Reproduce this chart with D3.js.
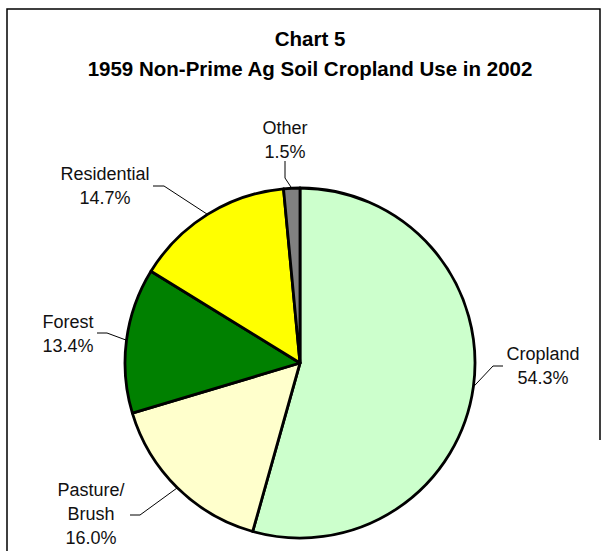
<html>
<head>
  <script src="https://d3js.org/d3.v7.min.js"></script>
  <style>
    body { margin: 0; background: #fff; }
    svg { display: block; font-family: "Liberation Sans", Arial, sans-serif; }
  </style>
</head>
<body>
  <svg id="chart"></svg>
  <script type="text/javascript">
    // data
    var categories = ["Cropland", "Pasture/\nBrush", "Forest", "Residential", "Other"];
    var shares = [54.3, 16.0, 13.4, 14.7, 1.5];
    var colors = ["#CCFFCC", "#FFFFCC", "#008000", "#FFFF00", "#808080"];
    var titleLines = ["Chart 5", "1959 Non-Prime Ag Soil Cropland Use in 2002"];

    var width = 605;
    var height = 551;
    var cx = 300, cy = 363, radius = 175;

    // label layout: text centre, first baseline, elbow and start of leader
    var labelLayout = [
      { x: 543, y: 360, elbow: [493, 366], start: [503, 366] },
      { x: 91, y: 496, elbow: [140, 515], start: [130, 515] },
      { x: 68, y: 328, elbow: [107, 333], start: [97, 333] },
      { x: 105, y: 180, elbow: [164, 186], start: [153, 186] },
      { x: 285, y: 134, elbow: [285, 178], start: [285, 161] }
    ];

    var svg = d3.select("#chart")
      .attr("width", width)
      .attr("height", height);

    // frame
    svg.append("path")
      .attr("d", "M7," + height + " L7,9 L600,9 L600,440")
      .attr("fill", "none")
      .attr("stroke", "#000")
      .attr("stroke-width", 1.5);

    // title
    svg.selectAll(".title")
      .data(titleLines)
      .enter()
      .append("text")
      .attr("class", "title")
      .attr("x", 310)
      .attr("y", function(d, i) { return 46 + i * 30; })
      .attr("text-anchor", "middle")
      .style("font-size", "20.5px")
      .style("font-weight", "bold")
      .text(function(d) { return d; });

    var pie = d3.pie().sort(null).value(function(d) { return d; });
    var arcs = pie(shares);

    var arc = d3.arc().innerRadius(0).outerRadius(radius);
    var edgeArc = d3.arc().innerRadius(radius).outerRadius(radius);

    var g = svg.append("g").attr("transform", "translate(" + cx + "," + cy + ")");

    g.selectAll("path.slice")
      .data(arcs)
      .enter()
      .append("path")
      .attr("class", "slice")
      .attr("d", arc)
      .attr("fill", function(d, i) { return colors[i]; })
      .attr("stroke", "#000")
      .attr("stroke-width", 2.8)
      .attr("stroke-linejoin", "round");

    // leader lines
    svg.selectAll("polyline.leader")
      .data(arcs)
      .enter()
      .append("polyline")
      .attr("class", "leader")
      .attr("points", function(d, i) {
        var c = edgeArc.centroid(d);
        var L = labelLayout[i];
        return [L.start, L.elbow, [c[0] + cx, c[1] + cy]].map(function(p) { return p.join(","); }).join(" ");
      })
      .attr("fill", "none")
      .attr("stroke", "#000")
      .attr("stroke-width", 1);

    // labels
    var labels = svg.selectAll("text.label")
      .data(arcs)
      .enter()
      .append("text")
      .attr("class", "label")
      .attr("text-anchor", "middle")
      .style("font-size", "18px")
      .attr("fill", "#111");

    labels.each(function(d, i) {
      var lines = categories[i].split("\n").concat([d3.format(".1f")(shares[i]) + "%"]);
      var L = labelLayout[i];
      d3.select(this).selectAll("tspan")
        .data(lines)
        .enter()
        .append("tspan")
        .attr("x", L.x)
        .attr("y", function(t, j) { return L.y + j * 24; })
        .text(function(t) { return t; });
    });
  </script>
</body>
</html>
